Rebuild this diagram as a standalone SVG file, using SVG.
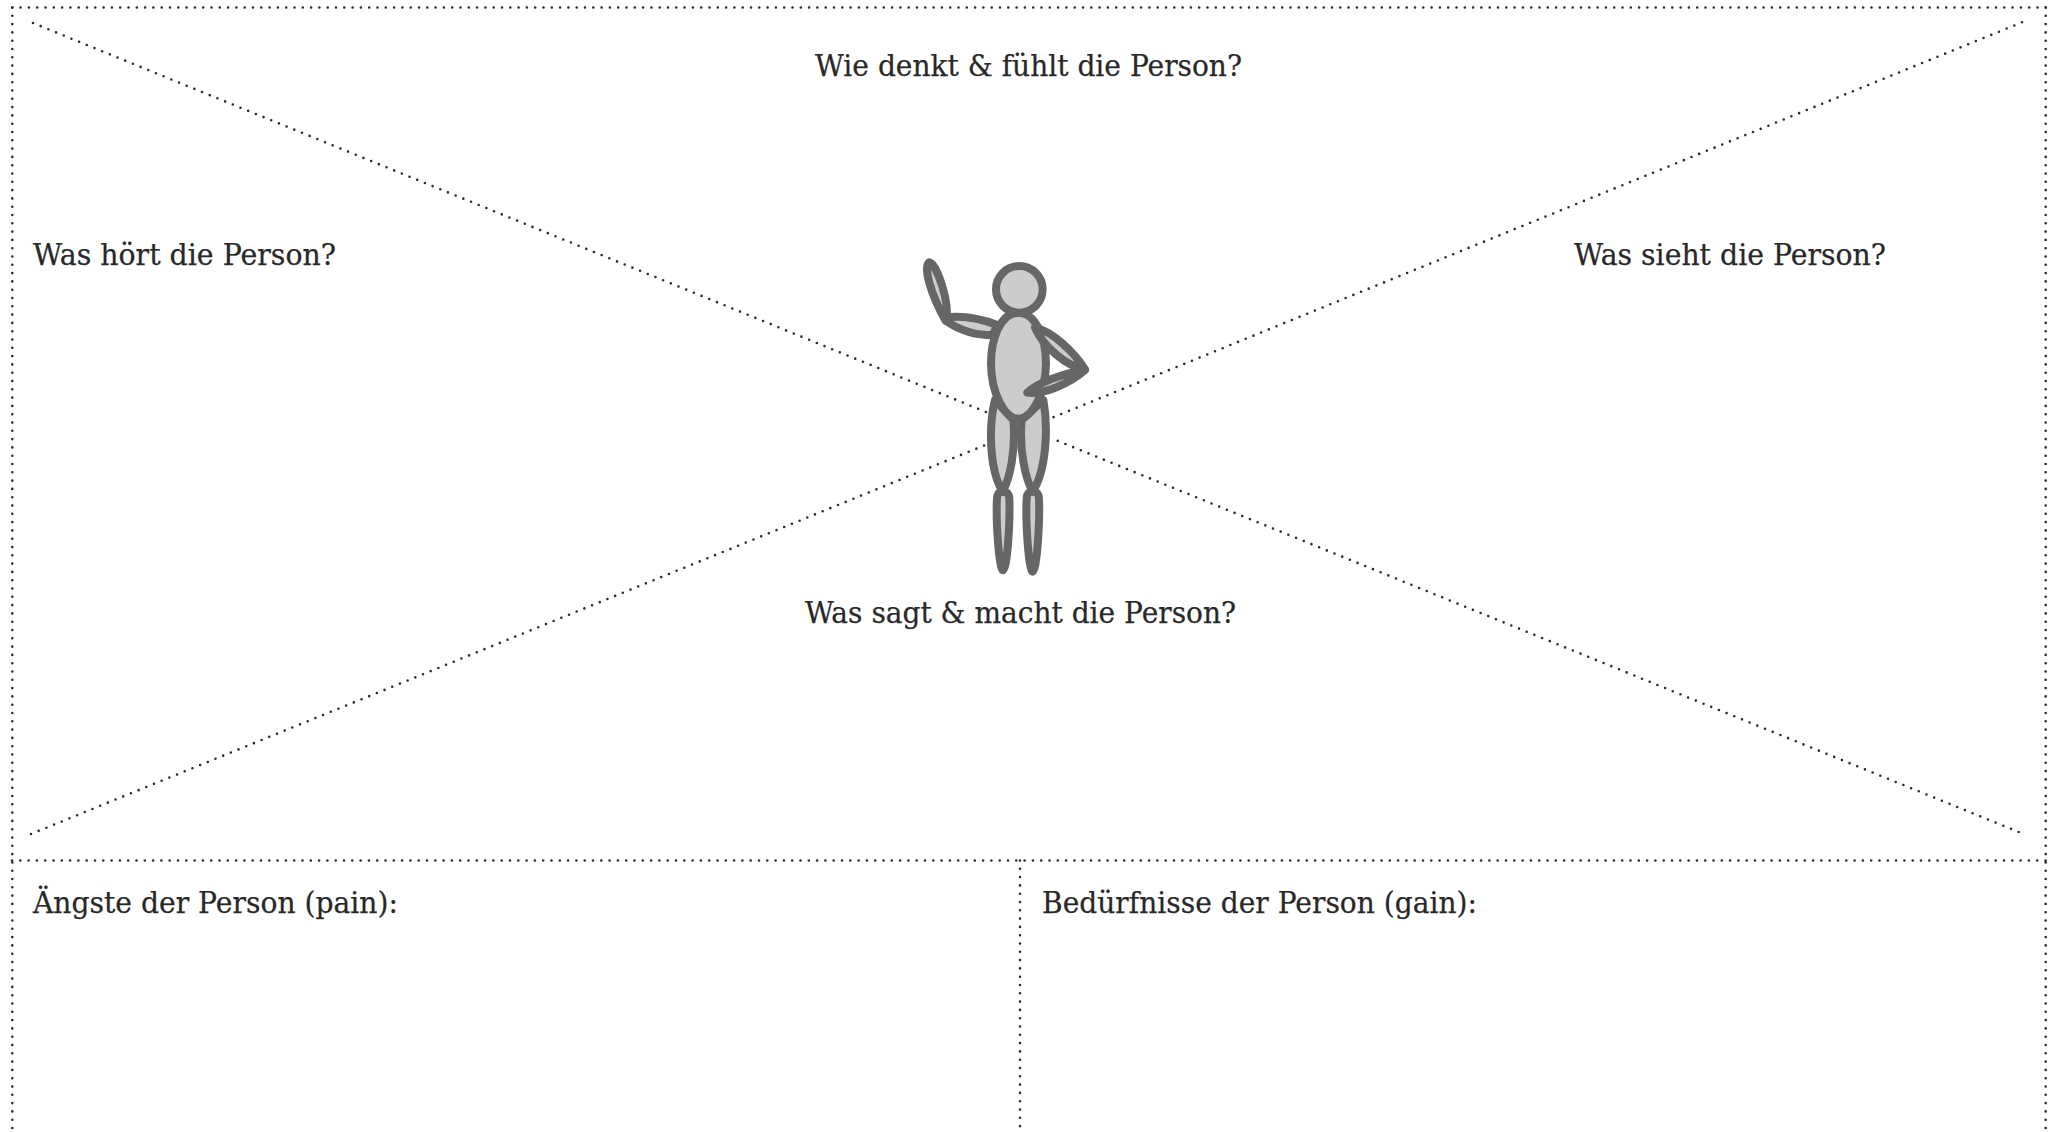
<svg xmlns="http://www.w3.org/2000/svg" width="2053" height="1132" viewBox="0 0 2053 1132">
<style>
.bg{fill:#fff}
.dot{fill:none;stroke:#2b2b2b;stroke-width:2.6;stroke-linecap:round;stroke-dasharray:0 8.3}
.lb{font-family:"DejaVu Serif","Liberation Serif",serif;font-size:30px;fill:#282828;stroke:#282828;stroke-width:.25}
.fig{fill:#ccc;stroke:#666;stroke-width:24;stroke-linejoin:round}
</style>
<rect class="bg" width="2053" height="1132"/>
<g id="connectors">
<path class="dot" d="M12.3 7.5H2046"/>
<path class="dot" d="M12.3 7.5V1132"/>
<path class="dot" d="M2045.7 7.5V1132"/>
<path class="dot" d="M12 860.5H2047"/>
<path class="dot" d="M1020 860.5V1132"/>
<path class="dot" d="M33 23L986 412"/>
<path class="dot" d="M2018.7 832L1050.7 438"/>
<path class="dot" d="M31 834L986 444.7"/>
<path class="dot" d="M2022 22.3L1050.7 418.3"/>
</g>
<g id="figure" transform="translate(880 230) scale(.3333)">
<path class="fig" d="M147 97C130 110 150 190 197 272C212 225 170 97 147 97Z"/>
<path class="fig" d="M200 262C250 256 300 265 352 285L338 316C290 316 240 302 200 274Z"/>
<path class="fig" d="M369 785C358 785 352 790 351 805C347 880 358 1021 369 1021C381 1021 391 880 388 805C387 790 380 785 369 785Z"/>
<path class="fig" d="M458 785C447 785 441 790 440 805C436 880 447 1025 458 1025C470 1025 480 880 477 805C476 790 469 785 458 785Z"/>
<path class="fig" d="M345 510C325 590 328 720 368 785C390 745 408 660 400 570Z"/>
<path class="fig" d="M490 510C505 590 500 720 458 785C436 745 417 660 425 570Z"/>
<path class="fig" d="M415 248C360 248 333 330 333 400C333 490 375 566 415 566C455 566 498 490 498 400C498 330 470 248 415 248Z"/>
<circle class="fig" cx="418" cy="178" r="70"/>
<path class="fig" d="M465 293C520 305 585 370 615 418C560 410 490 350 465 293Z"/>
<path class="fig" d="M615 420C550 430 470 460 442 488C490 495 570 460 615 420Z"/>
</g>
<g id="label-think"><text class="lb" x="815" y="76" textLength="427" lengthAdjust="spacingAndGlyphs">Wie denkt &amp; fühlt die Person?</text></g>
<g id="label-hear"><text class="lb" x="33" y="265" textLength="303" lengthAdjust="spacingAndGlyphs">Was hört die Person?</text></g>
<g id="label-see"><text class="lb" x="1574" y="265" textLength="312" lengthAdjust="spacingAndGlyphs">Was sieht die Person?</text></g>
<g id="label-say"><text class="lb" x="805" y="623" textLength="431" lengthAdjust="spacingAndGlyphs">Was sagt &amp; macht die Person?</text></g>
<g id="label-pain"><text class="lb" x="33" y="913" textLength="365" lengthAdjust="spacingAndGlyphs">Ängste der Person (pain):</text></g>
<g id="label-gain"><text class="lb" x="1042" y="913" textLength="435" lengthAdjust="spacingAndGlyphs">Bedürfnisse der Person (gain):</text></g>
</svg>
